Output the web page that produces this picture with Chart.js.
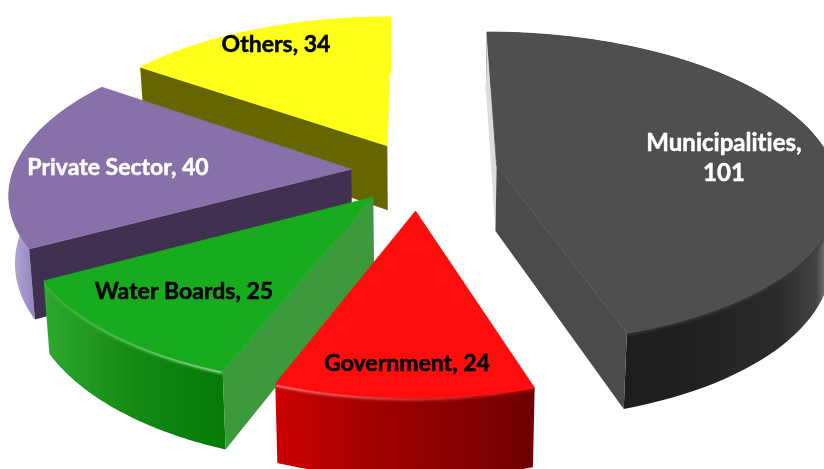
<!DOCTYPE html>
<html>
<head>
<meta charset="utf-8">
<title>Pie</title>
<script src="https://cdn.jsdelivr.net/npm/chart.js@4"></script>
<style>
  html, body { margin: 0; padding: 0; background: #ffffff; overflow: hidden; }
  canvas { display: block; }
</style>
</head>
<body>
<canvas id="pieChart" width="824" height="469"></canvas>
<script>
var categories = ['Municipalities', 'Government', 'Water Boards', 'Private Sector', 'Others'];
var values = [101, 24, 25, 40, 34];

// colours per slice, null means the face is never seen
var topColors = ['#4f4f4f', '#ff0d0d', '#18ab1e', '#8870a8', '#ffff1a'];
var startFaceColors = ['#dcdcdc', null, '#3c9a3c', '#3f3050', '#666600'];
var endFaceColors = ['#4b4b4b', null, null, null, null];
var wallStops = [
  [[0, '#1a1a1a'], [0.55, '#1f1f1f'], [0.85, '#2a2a2a'], [0.96, '#444444'], [1, '#8a8a8a']],
  [[0, '#cc0000'], [0.35, '#a50000'], [1, '#6e0000']],
  [[0, '#2fa82f'], [0.5, '#128a12'], [1, '#067a06']],
  [[0, '#b5a9d8'], [1, '#8777b4']],
  [[0, '#ffff1a'], [1, '#ffff1a']]
];
var rimLeft = ['#3a3a3a', '#ff9a9a', '#35b535', '#b0a0d0', '#ffff1a'];
var rimRight = ['#3a3a3a', '#a80000', '#c0f4c0', '#b0a0d0', '#ffff1a'];
var labelColors = ['#ffffff', '#000000', '#000000', '#ffffff', '#000000'];
var drawOrder = [4, 3, 2, 0, 1];

// how far each slice is pulled out of the pie, plus small sideways nudges
var offsets = [80, 85, 74, 68, 64];
var nudges = [2, 2, 7, 3, 0];
var radiusScale = [1, 0.97, 1, 1, 1];

// where the label of each slice goes
var labelX = [724, 407, 184, 118, 276];
var labelY = [143, 364, 292, 168, 45];

// view settings for the tilted pie
var VIEW_X = 416;
var VIEW_Y = 171;
var TILT = 0.455;
var PERSPECTIVE = 0.00042;
var DEPTH = 66;
var TAPER = 0.015;

function project(arc, i, angle, radius, lift) {
  var mid = (arc.startAngle + arc.endAngle) / 2;
  var off = arc.options.offset;
  var r = radius * radiusScale[i];
  var X = r * Math.cos(angle) + off * Math.cos(mid);
  var Y = r * Math.sin(angle) + off * Math.sin(mid);
  var s = 1 / (1 - PERSPECTIVE * Y);
  return {
    x: VIEW_X + nudges[i] + X * s * (1 - TAPER * lift),
    y: VIEW_Y + TILT * Y * s + lift * DEPTH * s
  };
}

function arcPoints(arc, i, lift) {
  var pts = [];
  for (var n = 0; n <= 80; n++) {
    var a = arc.startAngle + (arc.endAngle - arc.startAngle) * n / 80;
    pts.push(project(arc, i, a, arc.outerRadius, lift));
  }
  return pts;
}

function tracePath(ctx, pts) {
  ctx.beginPath();
  pts.forEach(function (p, n) {
    if (n === 0) ctx.moveTo(p.x, p.y); else ctx.lineTo(p.x, p.y);
  });
}

function fillPath(ctx, pts, fill) {
  if (!fill) return;
  tracePath(ctx, pts);
  ctx.closePath();
  ctx.fillStyle = fill;
  ctx.fill();
}

function drawSlice(ctx, arc, i) {
  var apexTop = project(arc, i, 0, 0, 0);
  var apexBottom = project(arc, i, 0, 0, 1);
  var top = arcPoints(arc, i, 0);
  var bottom = arcPoints(arc, i, 1);
  var last = top.length - 1;

  // outer wall, the shading runs along x over the part that shows
  var wall = top.concat(bottom.slice().reverse());
  var x0 = Math.min(top[last].x, bottom[last].x, top[0].x, bottom[0].x);
  var x1 = Math.max(top[last].x, bottom[last].x, top[0].x, bottom[0].x);
  if (i === 0) { x1 = 830; }
  if (i === 3) { x0 = 12; x1 = 42; }
  var grad = ctx.createLinearGradient(x0, 0, x1, 0);
  wallStops[i].forEach(function (st) { grad.addColorStop(st[0], st[1]); });
  fillPath(ctx, wall, grad);

  // soft rim where the wall meets the top
  var rim = ctx.createLinearGradient(x0, 0, x1, 0);
  rim.addColorStop(0, rimLeft[i]);
  rim.addColorStop(1, rimRight[i]);
  ctx.save();
  tracePath(ctx, wall);
  ctx.closePath();
  ctx.clip();
  ctx.filter = 'blur(1.5px)';
  ctx.strokeStyle = rim;
  ctx.lineWidth = 4;
  tracePath(ctx, top);
  ctx.stroke();
  ctx.restore();

  // flat cut faces of the wedge
  fillPath(ctx, [apexTop, top[0], bottom[0], apexBottom], startFaceColors[i]);
  fillPath(ctx, [apexTop, top[last], bottom[last], apexBottom], endFaceColors[i]);

  // top of the slice, the thin stroke hides the seam along the cut face
  fillPath(ctx, [apexTop].concat(top), topColors[i]);
  ctx.strokeStyle = topColors[i];
  ctx.lineWidth = 0.8;
  tracePath(ctx, [apexTop].concat(top));
  ctx.closePath();
  ctx.stroke();
}

function drawLabel(ctx, i) {
  ctx.save();
  ctx.font = 'bold ' + (values[i] > 100 ? 24 : 23) + 'px Lato, "Open Sans", sans-serif';
  ctx.letterSpacing = '0.01px'; // keeps the "ti" from turning into a ligature
  ctx.fillStyle = labelColors[i];
  ctx.strokeStyle = labelColors[i];
  ctx.lineWidth = 0.5;
  ctx.textAlign = 'center';
  ctx.textBaseline = 'middle';
  var lines = [categories[i] + ', ' + values[i]];
  if (values[i] > 100) {
    lines = [categories[i] + ',', String(values[i])];
  }
  lines.forEach(function (line, n) {
    ctx.fillText(line, labelX[i], labelY[i] + n * 30);
    ctx.strokeText(line, labelX[i], labelY[i] + n * 30);
  });
  ctx.restore();
}

var tiltedPie = {
  id: 'tiltedPie',
  beforeDatasetsDraw: function (chart) {
    var ctx = chart.ctx;
    var arcs = chart.getDatasetMeta(0).data;
    drawOrder.forEach(function (i) { drawSlice(ctx, arcs[i], i); });
    categories.forEach(function (c, i) { drawLabel(ctx, i); });
    return false;
  }
};

new Chart(document.getElementById('pieChart').getContext('2d'), {
  type: 'pie',
  data: {
    labels: categories,
    datasets: [{
      data: values,
      backgroundColor: topColors,
      offset: offsets,
      borderWidth: 0
    }]
  },
  options: {
    responsive: false,
    animation: false,
    events: [],
    radius: 338,
    plugins: { legend: { display: false }, tooltip: { enabled: false } }
  },
  plugins: [tiltedPie]
});
</script>
</body>
</html>
